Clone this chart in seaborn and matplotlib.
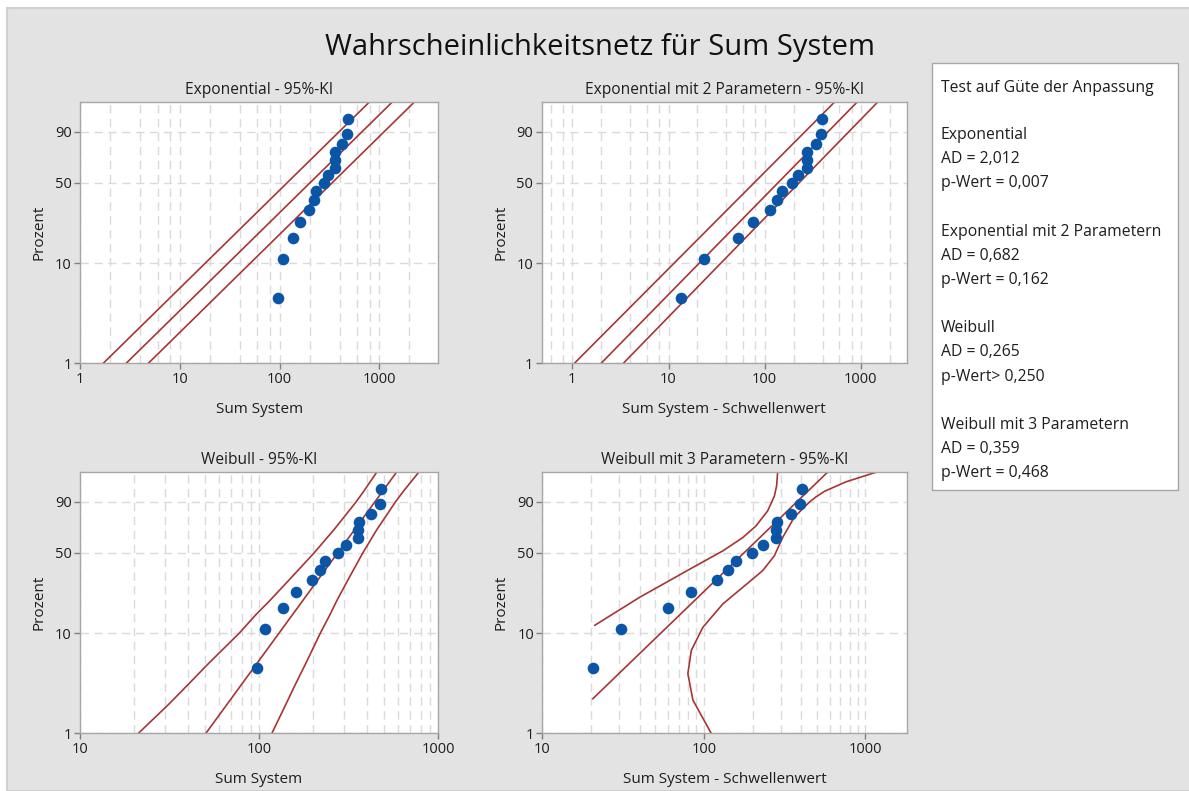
"""
Wahrscheinlichkeitsnetz für Sum System (Nachbau des Minitab-Diagramms)
"""

import numpy as np
import matplotlib
matplotlib.use("Agg")
import matplotlib.pyplot as plt
import seaborn as sns
from matplotlib.patches import Rectangle
from matplotlib.ticker import FixedLocator, FixedFormatter, LogLocator, NullFormatter, NullLocator

sns.set_theme(style="white")
plt.rcParams['font.family'] = ['Open Sans', 'DejaVu Sans']
plt.rcParams['axes.unicode_minus'] = False

# --- Daten ---
sum_system = [97.5, 107.5, 137, 160, 198, 219, 234, 276, 308, 358, 358, 362, 422, 473, 482]
prozent = [4.5, 11.0, 17.5, 24.0, 30.5, 37.0, 43.5, 50.0, 56.5, 63.0, 69.5, 76.0, 82.5, 89.0, 95.5]
schwelle_exp2 = 84
schwelle_wb3 = 77

# Gerade Linien: x bei 1 % und x bei 99 %  (obere KI, Anpassung, untere KI)
linie_prozent = [1, 99]
exp_linien = [[1.71, 790], [2.9, 1340], [4.84, 2230]]
exp2_linien = [[1.05, 530], [1.99, 910], [3.39, 1490]]
wb_mitte = [50.5, 586]
wb3_mitte = [20.5, 582]
wb3_mitte_prozent = [2.23, 99]

# Gekrümmte KI-Grenzen
wb_ki_prozent = [1, 2, 3, 5, 10, 15, 20, 30, 50, 70, 90, 95, 99]
wb_ki_links = [21.2, 31.6, 39.4, 52, 77.5, 96, 114, 145, 203, 263, 349, 387, 454]
wb_ki_rechts = [118, 142, 158, 182, 220, 249, 271, 311, 380, 456, 579, 645, 780]

wb3_links_prozent = [11.9, 21.7, 37.8, 51.7, 63.0, 72.9, 84.4, 92.8, 96.5, 99]
wb3_links = [21.1, 40, 82, 131, 174, 210, 248, 273, 282, 286]
wb3_rechts_prozent = [99, 97.5, 94.8, 92.5, 90, 80, 63, 47.7, 36.7, 26.6, 18.9, 11.4, 6.8, 4.0, 2.17, 1.0]
wb3_rechts = [1159, 760, 560, 495, 452, 363, 307, 273, 231, 174, 131, 98.6, 83.6, 79.6, 85.5, 111]

# Güte der Anpassung
verteilungen = ['Exponential', 'Exponential mit 2 Parametern', 'Weibull', 'Weibull mit 3 Parametern']
ad_werte = ['2,012', '0,682', '0,265', '0,359']
p_werte = ['p-Wert = 0,007', 'p-Wert = 0,162', 'p-Wert> 0,250', 'p-Wert = 0,468']

y_ticks = [1, 10, 50, 90]

BLAU = '#0a55a6'
ROT = '#a83434'
TEXT = '#1e1e1e'
W, H = 1189, 791


def weibull_vor(p):
    p = np.clip(np.asarray(p, dtype=float), 1e-9, 100 - 1e-9)
    return np.log(-np.log(1 - p / 100))


def weibull_rueck(w):
    return 100 * (1 - np.exp(-np.exp(np.asarray(w, dtype=float))))


def achse(px_links, px_oben, px_rechts, px_unten):
    return fig.add_axes([px_links / W, 1 - px_unten / H,
                         (px_rechts - px_links) / W, (px_unten - px_oben) / H])


def einrichten(ax, xlim, xticks, subs, titel, xlabel):
    ax.set_xscale('log')
    ax.set_yscale('function', functions=(weibull_vor, weibull_rueck))
    ax.set_xlim(*xlim)
    ax.set_ylim(1, 99)
    ax.xaxis.set_major_locator(FixedLocator(xticks))
    ax.xaxis.set_major_formatter(FixedFormatter([str(t) for t in xticks]))
    ax.xaxis.set_minor_locator(LogLocator(base=10, subs=subs))
    ax.xaxis.set_minor_formatter(NullFormatter())
    ax.yaxis.set_major_locator(FixedLocator(y_ticks))
    ax.yaxis.set_major_formatter(FixedFormatter([str(t) for t in y_ticks]))
    ax.yaxis.set_minor_locator(NullLocator())
    ax.set_facecolor('white')
    ax.grid(which='both', axis='x', color='#dadada', linestyle=(0, (6, 4)), linewidth=1)
    ax.grid(which='major', axis='y', color='#dadada', linestyle=(0, (6, 4)), linewidth=1)
    ax.set_axisbelow(True)
    ax.tick_params(which='major', length=4, width=1, color='#7f7f7f', labelsize=10.5,
                   labelcolor=TEXT, pad=2, bottom=True, left=True)
    ax.tick_params(which='minor', length=0)
    for s in ax.spines.values():
        s.set_color('#a6a6a6')
        s.set_linewidth(1)
    ax.set_title(titel, fontsize=11.2, color=TEXT, pad=6)
    ax.set_xlabel(xlabel, fontsize=11, color=TEXT, labelpad=11)
    ax.set_ylabel('Prozent', fontsize=11, color=TEXT, labelpad=6)


def linie(ax, x, y, lw=1.2):
    sns.lineplot(x=x, y=y, ax=ax, color=ROT, linewidth=lw, sort=False, estimator=None, zorder=2)


def punkte(ax, x):
    sns.scatterplot(x=x, y=prozent, ax=ax, color=BLAU, s=70, linewidth=0, zorder=3)


fig = plt.figure(figsize=(W / 100, H / 100), dpi=100, facecolor='white')
fig.add_artist(Rectangle((7 / W, 0), 1, (H - 8) / H, transform=fig.transFigure,
                         facecolor='#e3e3e3', edgecolor='#d0d0d0', linewidth=1.5, zorder=0))

fig.text(600 / W, 1 - 48 / H, 'Wahrscheinlichkeitsnetz für Sum System',
         ha='center', va='center', fontsize=21, color='#111111')

# 1. Exponential
ax1 = achse(80, 102.3, 438.3, 363.3)
for l in exp_linien:
    linie(ax1, l, linie_prozent)
punkte(ax1, sum_system)
einrichten(ax1, (1, 3900), [1, 10, 100, 1000], (2, 4, 6, 8),
           'Exponential - 95%-KI', 'Sum System')

# 2. Exponential mit 2 Parametern
ax2 = achse(541.7, 102.3, 906.7, 363.3)
for l in exp2_linien:
    linie(ax2, l, linie_prozent)
punkte(ax2, [v - schwelle_exp2 for v in sum_system])
einrichten(ax2, (0.48, 3000), [1, 10, 100, 1000], (2, 4, 6, 8),
           'Exponential mit 2 Parametern - 95%-KI', 'Sum System - Schwellenwert')

# 3. Weibull
ax3 = achse(80, 472.3, 438, 733.3)
linie(ax3, wb_ki_links, wb_ki_prozent)
linie(ax3, wb_mitte, linie_prozent)
linie(ax3, wb_ki_rechts, wb_ki_prozent)
punkte(ax3, sum_system)
einrichten(ax3, (10, 1000), [10, 100, 1000], tuple(range(2, 10)),
           'Weibull - 95%-KI', 'Sum System')

# 4. Weibull mit 3 Parametern
ax4 = achse(542.3, 472.3, 906.7, 733.3)
linie(ax4, wb3_links, wb3_links_prozent)
linie(ax4, wb3_mitte, wb3_mitte_prozent)
linie(ax4, wb3_rechts, wb3_rechts_prozent)
punkte(ax4, [v - schwelle_wb3 for v in sum_system])
einrichten(ax4, (10, 1800), [10, 100, 1000], tuple(range(2, 10)),
           'Weibull mit 3 Parametern - 95%-KI', 'Sum System - Schwellenwert')

# Textkasten: Test auf Güte der Anpassung
fig.add_artist(Rectangle((932.3 / W, 1 - 490 / H), (1178.3 - 932.3) / W, (490 - 63.3) / H,
                         transform=fig.transFigure, facecolor='white',
                         edgecolor='#a6a6a6', linewidth=1, zorder=1))
fig.text(941 / W, 1 - 88.3 / H, 'Test auf Güte der Anpassung', ha='left', va='center',
         fontsize=11.3, color=TEXT)
for k, name in enumerate(verteilungen):
    y0 = 135 + 96.6 * k
    zeilen = [name, 'AD = ' + ad_werte[k], p_werte[k]]
    for j, z in enumerate(zeilen):
        fig.text(941 / W, 1 - (y0 + 24.2 * j) / H, z, ha='left', va='center',
                 fontsize=11.3, color=TEXT)

fig.savefig('out.png', dpi=100, facecolor=fig.get_facecolor())
